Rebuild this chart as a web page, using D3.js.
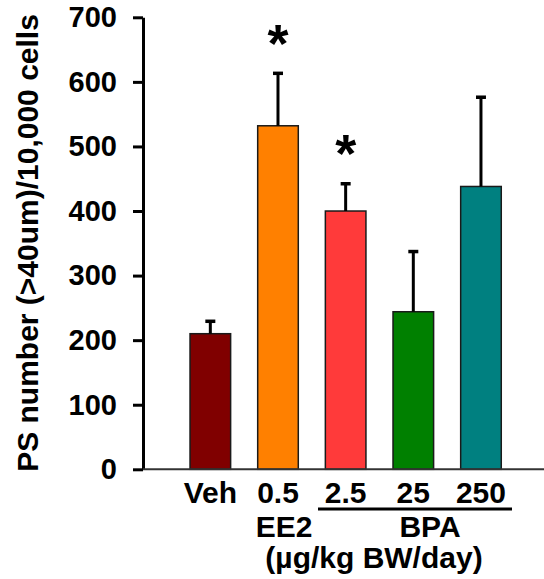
<!DOCTYPE html>
<html>
<head>
<meta charset="utf-8">
<script src="https://cdn.jsdelivr.net/npm/d3@7"></script>
<style>
    html, body { margin: 0; padding: 0; background: #fff; }
    text { font-family: Arial, "Liberation Sans", sans-serif; font-weight: bold; }
</style>
</head>
<body>
<svg id="chart"></svg>
<script>
// Chart data
const groups = ['Veh', '0.5', '2.5', '25', '250'];
const means = [210, 532, 400, 244, 438];
const errors = [20, 82, 43, 94, 139];
const barColors = ['#800000', '#ff8000', '#ff3a3a', '#008000', '#008080'];
const significant = [false, true, true, false, false];
const yTicks = [0, 100, 200, 300, 400, 500, 600, 700];

const width = 544, height = 579;

const svg = d3.select('#chart')
    .attr('width', width)
    .attr('height', height);

// Scales
const x = d3.scaleBand()
    .domain(groups)
    .range([176.5, 514.8])
    .paddingInner(0.4)
    .paddingOuter(0.2);

const y = d3.scaleLinear()
    .domain([0, 700])
    .range([469.3, 17.3]);

const axisX = 143;

// Y axis
const yAxis = svg.append('g')
    .attr('transform', `translate(${axisX},0)`)
    .call(d3.axisLeft(y).tickValues(yTicks).tickSize(10).tickPadding(16).tickSizeOuter(0));
yAxis.select('.domain').attr('stroke', '#000').attr('stroke-width', 3);
yAxis.selectAll('.tick line').attr('stroke', '#000').attr('stroke-width', 3);
yAxis.selectAll('.tick text')
    .attr('font-size', 29)
    .attr('font-weight', 'bold')
    .attr('font-family', 'Arial, "Liberation Sans", sans-serif')
    .attr('fill', '#000');

// Y axis title
svg.append('text')
    .attr('transform', `translate(37.5,${243}) rotate(-90)`)
    .attr('text-anchor', 'middle')
    .attr('font-size', 30)
    .text('PS number (>40um)/10,000 cells');

// Bars
svg.append('g')
    .selectAll('rect')
    .data(groups)
    .enter()
    .append('rect')
    .attr('x', d => x(d))
    .attr('y', (d, i) => y(means[i]))
    .attr('width', x.bandwidth())
    .attr('height', (d, i) => y(0) - y(means[i]))
    .attr('fill', (d, i) => barColors[i])
    .attr('stroke', '#1a1a1a')
    .attr('stroke-width', 1.5);

// Error bars (upper only)
const errGroup = svg.append('g').attr('stroke', '#000').attr('stroke-width', 3);
groups.forEach((g, i) => {
    const cx = x(g) + x.bandwidth() / 2;
    errGroup.append('line')
        .attr('x1', cx).attr('x2', cx)
        .attr('y1', y(means[i])).attr('y2', y(means[i] + errors[i]));
    errGroup.append('line')
        .attr('x1', cx - 5).attr('x2', cx + 5)
        .attr('y1', y(means[i] + errors[i]) + 0.5).attr('y2', y(means[i] + errors[i]) + 0.5)
        .attr('stroke-width', 3.5);
});

// Significance asterisks
svg.append('g')
    .selectAll('text')
    .data(groups.filter((g, i) => significant[i]))
    .enter()
    .append('text')
    .attr('x', d => x(d) + x.bandwidth() / 2)
    .attr('y', d => {
        const i = groups.indexOf(d);
        return y(means[i] + errors[i]) - 11;
    })
    .attr('text-anchor', 'middle')
    .attr('font-size', 54)
    .text('*');

// X axis baseline
svg.append('line')
    .attr('x1', axisX).attr('x2', width)
    .attr('y1', y(0)).attr('y2', y(0))
    .attr('stroke', '#333')
    .attr('stroke-width', 2);

// Group labels
const xAxis = svg.append('g')
    .attr('transform', `translate(0,${y(0)})`)
    .call(d3.axisBottom(x).tickSize(0).tickPadding(0));
xAxis.select('.domain').remove();
xAxis.selectAll('.tick text')
    .attr('dy', null)
    .attr('y', 34)
    .attr('font-size', 30)
    .attr('font-weight', 'bold')
    .attr('font-family', 'Arial, "Liberation Sans", sans-serif')
    .attr('fill', '#000');

// BPA bracket line
svg.append('line')
    .attr('x1', 318).attr('x2', 512)
    .attr('y1', 509).attr('y2', 509)
    .attr('stroke', '#000')
    .attr('stroke-width', 3);

svg.append('text')
    .attr('x', 284).attr('y', 537)
    .attr('text-anchor', 'middle')
    .attr('font-size', 30)
    .text('EE2');

svg.append('text')
    .attr('x', 430).attr('y', 537)
    .attr('text-anchor', 'middle')
    .attr('font-size', 30)
    .text('BPA');

svg.append('text')
    .attr('x', 374).attr('y', 568)
    .attr('text-anchor', 'middle')
    .attr('font-size', 30)
    .text('(µg/kg BW/day)');
</script>
</body>
</html>
